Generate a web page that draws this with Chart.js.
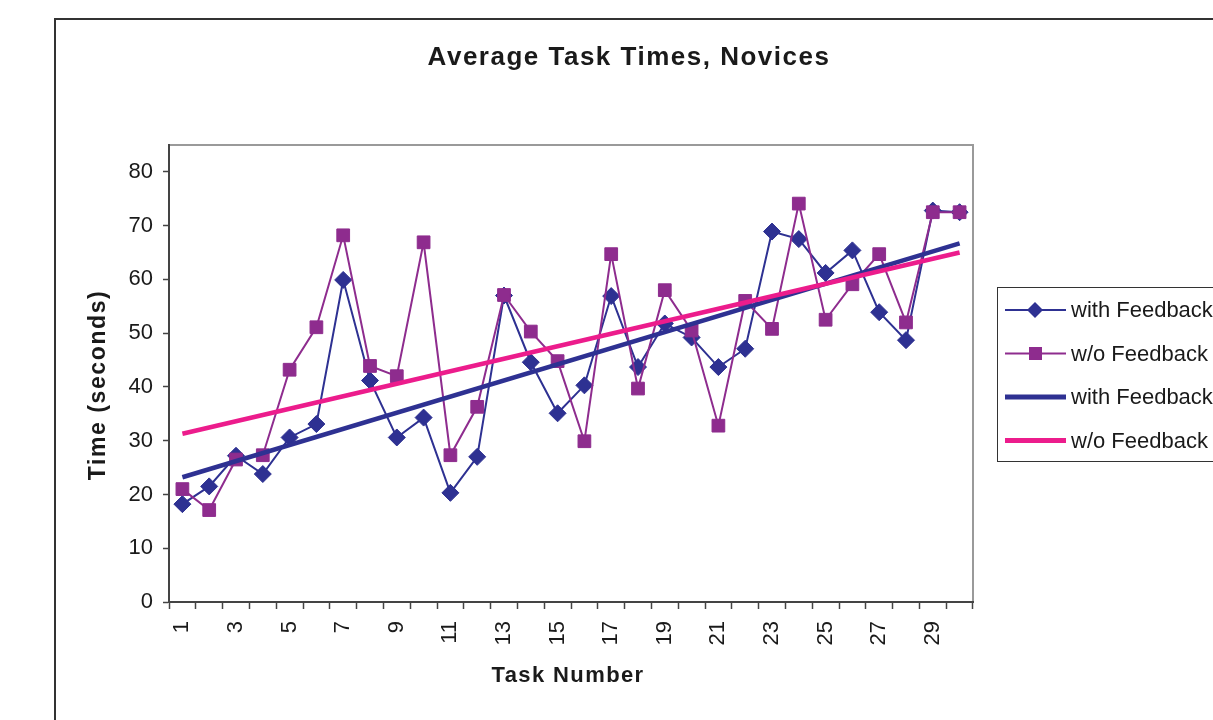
<!DOCTYPE html>
<html>
<head>
<meta charset="utf-8">
<script src="https://cdn.jsdelivr.net/npm/chart.js@4.4.1/dist/chart.umd.min.js"></script>
<style>
  html, body { margin: 0; padding: 0; background: #fff; }
  #wrap { width: 1213px; height: 720px; }
</style>
</head>
<body>
<div id="wrap"><canvas id="chart" width="1213" height="720"></canvas></div>
<script>
const taskLabels = ['1','2','3','4','5','6','7','8','9','10','11','12','13','14','15',
                    '16','17','18','19','20','21','22','23','24','25','26','27','28','29','30'];
const withFeedback = [18.2, 21.5, 27.2, 23.8, 30.6, 33.1, 59.9, 41.2, 30.6, 34.3,
                      20.3, 27.0, 57.0, 44.6, 35.1, 40.3, 56.9, 43.7, 51.8, 49.2,
                      43.7, 47.1, 68.9, 67.5, 61.2, 65.4, 53.9, 48.7, 72.8, 72.5];
const withoutFeedback = [21.0, 17.1, 26.5, 27.3, 43.2, 51.1, 68.2, 43.9, 42.0, 66.9,
                         27.3, 36.3, 57.1, 50.3, 44.8, 29.9, 64.7, 39.7, 58.0, 50.5,
                         32.8, 56.0, 50.8, 74.1, 52.5, 59.1, 64.7, 52.0, 72.5, 72.5];
// trendline ends (task 1 and task 30)
const trendWithEnds = [23.2, 66.7];
const trendWoEnds = [31.3, 65.0];
const yTicks = [0, 10, 20, 30, 40, 50, 60, 70, 80];

const NAVY = '#2E3192';
const PURPLE = '#8E2C8E';
const PINK = '#EC1C8C';
const FONT = '"Liberation Sans", Arial, sans-serif';

function trendData(ends) {
    return taskLabels.map((_, i) => i === 0 ? ends[0] : (i === taskLabels.length - 1 ? ends[1] : null));
}

const legendItems = [
    { text: 'with Feedback', color: NAVY, width: 2, marker: 'diamond' },
    { text: 'w/o Feedback', color: PURPLE, width: 2, marker: 'square' },
    { text: 'with Feedback', color: NAVY, width: 5, marker: null },
    { text: 'w/o Feedback', color: PINK, width: 5, marker: null }
];

const decor = {
    id: 'decor',
    beforeDraw(chart) {
        const ctx = chart.ctx;
        ctx.save();
        ctx.fillStyle = '#fff';
        ctx.fillRect(0, 0, chart.width, chart.height);
        // outer frame
        ctx.strokeStyle = '#333';
        ctx.lineWidth = 2;
        ctx.beginPath();
        ctx.moveTo(55, 720);
        ctx.lineTo(55, 19);
        ctx.lineTo(1213, 19);
        ctx.stroke();
        // plot frame top / right
        const a = chart.chartArea;
        ctx.strokeStyle = '#9a9a9a';
        ctx.beginPath();
        ctx.moveTo(a.left, a.top);
        ctx.lineTo(a.right, a.top);
        ctx.lineTo(a.right, a.bottom);
        ctx.stroke();
        ctx.restore();
    },
    afterDraw(chart) {
        const ctx = chart.ctx;
        ctx.save();
        ctx.fillStyle = '#1a1a1a';
        ctx.textAlign = 'center';
        ctx.textBaseline = 'middle';
        ctx.font = 'bold 26px ' + FONT;
        ctx.letterSpacing = '1.5px';
        ctx.fillText('Average Task Times, Novices', 629, 58);
        ctx.font = 'bold 22px ' + FONT;
        ctx.letterSpacing = '1.4px';
        ctx.fillText('Task Number', 568, 676);
        ctx.save();
        ctx.translate(99, 385);
        ctx.rotate(-Math.PI / 2);
        ctx.font = 'bold 23px ' + FONT;
        ctx.letterSpacing = '1.6px';
        ctx.fillText('Time (seconds)', 0, 0);
        ctx.restore();

        // legend
        ctx.letterSpacing = '0px';
        ctx.strokeStyle = '#333';
        ctx.lineWidth = 1;
        ctx.strokeRect(997.5, 287.5, 300, 174);
        ctx.font = '22px ' + FONT;
        ctx.textAlign = 'left';
        legendItems.forEach((it, i) => {
            const y = 310 + i * 43.5;
            ctx.strokeStyle = it.color;
            ctx.lineWidth = it.width;
            ctx.beginPath();
            ctx.moveTo(1005, y);
            ctx.lineTo(1066, y);
            ctx.stroke();
            ctx.fillStyle = it.color;
            if (it.marker === 'diamond') {
                ctx.beginPath();
                ctx.moveTo(1035, y - 8);
                ctx.lineTo(1043, y);
                ctx.lineTo(1035, y + 8);
                ctx.lineTo(1027, y);
                ctx.closePath();
                ctx.fill();
            } else if (it.marker === 'square') {
                ctx.fillRect(1029, y - 6.5, 13, 13);
            }
            ctx.fillStyle = '#1a1a1a';
            ctx.fillText(it.text, 1071, y + 1);
        });
        ctx.restore();
    }
};

const chartCtx = document.getElementById('chart').getContext('2d');
const taskChart = new Chart(chartCtx, {
    type: 'line',
    data: {
        labels: taskLabels,
        datasets: [
            { label: 'w/o Feedback trend', data: trendData(trendWoEnds), borderColor: PINK, borderWidth: 4.5,
              pointRadius: 0, spanGaps: true, order: 0 },
            { label: 'with Feedback trend', data: trendData(trendWithEnds), borderColor: NAVY, borderWidth: 4.5,
              pointRadius: 0, spanGaps: true, order: 1 },
            { label: 'w/o Feedback', data: withoutFeedback, borderColor: PURPLE, borderWidth: 2,
              pointStyle: 'rect', pointRadius: 9, pointBackgroundColor: PURPLE, pointBorderColor: PURPLE,
              pointBorderWidth: 1, order: 2 },
            { label: 'with Feedback', data: withFeedback, borderColor: NAVY, borderWidth: 2,
              pointStyle: 'rectRot', pointRadius: 8.5, pointBackgroundColor: NAVY, pointBorderColor: NAVY,
              pointBorderWidth: 1, order: 3 }
        ]
    },
    options: {
        responsive: false,
        animation: false,
        layout: { padding: { left: 60, top: 145, right: 240, bottom: 0 } },
        plugins: { legend: { display: false }, title: { display: false }, tooltip: { enabled: false } },
        scales: {
            x: {
                offset: true,
                grid: { offset: true, drawOnChartArea: false, tickLength: 7, color: '#444', tickWidth: 1.5 },
                border: { color: '#444', width: 2 },
                ticks: {
                    autoSkip: false, minRotation: 90, maxRotation: 90, padding: 12,
                    color: '#1a1a1a', font: { family: FONT, size: 22 },
                    callback: (v, i) => (i % 2 === 0 ? taskLabels[i] : '')
                },
                afterFit: s => { s.height = 118; }
            },
            y: {
                min: 0, max: 85,
                grid: { drawOnChartArea: false, tickLength: 6, color: '#444', tickWidth: 1.5 },
                border: { color: '#444', width: 2 },
                ticks: { stepSize: 10, padding: 10, color: '#1a1a1a', font: { family: FONT, size: 22 } },
                afterBuildTicks: s => { s.ticks = yTicks.map(v => ({ value: v })); },
                afterFit: s => { s.width = 109; }
            }
        }
    },
    plugins: [decor]
});
</script>
</body>
</html>
